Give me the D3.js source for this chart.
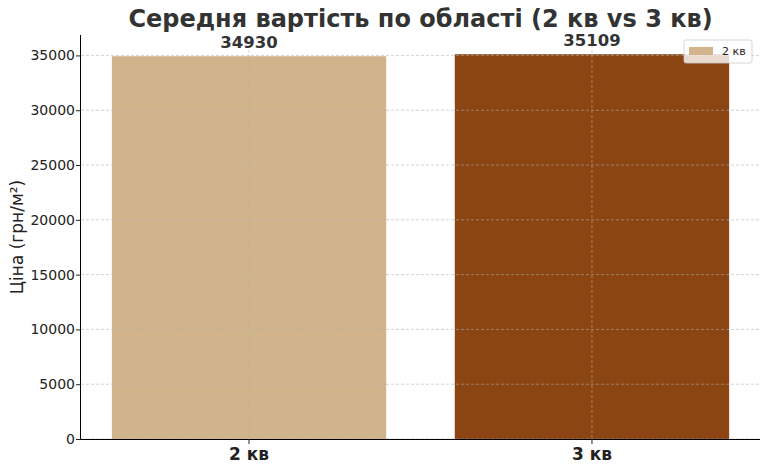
<!DOCTYPE html>
<html>
<head>
<meta charset="utf-8">
<script src="https://cdn.jsdelivr.net/npm/d3@7"></script>
<style>
  body { margin: 0; background: #fff; }
  text { font-family: "DejaVu Sans", sans-serif; }
</style>
</head>
<body>
<script>
// Chart data
var quarters = ["2 кв", "3 кв"];
var prices = [34930, 35109];
var barColors = ["#D2B48C", "#8B4513"];
var yTicks = [0, 5000, 10000, 15000, 20000, 25000, 30000, 35000];

var svgWidth = 768;
var svgHeight = 469;
var margin = { top: 35, right: 8, bottom: 30, left: 81 };
var chartWidth = svgWidth - margin.left - margin.right;
var chartHeight = svgHeight - margin.top - margin.bottom;

var svg = d3.select("body").append("svg")
  .attr("width", svgWidth)
  .attr("height", svgHeight);

var chartGroup = svg.append("g")
  .attr("transform", `translate(${margin.left}, ${margin.top})`);

var xScale = d3.scaleBand()
  .domain(quarters)
  .range([0, chartWidth])
  .paddingInner(0.2)
  .paddingOuter(0.09);

var yScale = d3.scaleLinear()
  .domain([0, d3.max(prices) * 1.05])
  .range([chartHeight, 0]);

// bars
chartGroup.selectAll(".bar")
  .data(prices)
  .enter()
  .append("rect")
  .attr("x", (d, i) => xScale(quarters[i]))
  .attr("y", d => yScale(d))
  .attr("width", xScale.bandwidth())
  .attr("height", d => chartHeight - yScale(d))
  .attr("fill", (d, i) => barColors[i]);

// grid lines on top of bars
chartGroup.selectAll(".hgrid")
  .data(yTicks)
  .enter()
  .append("line")
  .attr("x1", 0).attr("x2", chartWidth)
  .attr("y1", d => yScale(d)).attr("y2", d => yScale(d))
  .attr("stroke", "#b0b0b0")
  .attr("stroke-opacity", 0.7)
  .attr("stroke-width", 0.8)
  .attr("stroke-dasharray", "3,2");

chartGroup.selectAll(".vgrid")
  .data(quarters)
  .enter()
  .append("line")
  .attr("x1", d => xScale(d) + xScale.bandwidth() / 2)
  .attr("x2", d => xScale(d) + xScale.bandwidth() / 2)
  .attr("y1", 0).attr("y2", chartHeight)
  .attr("stroke", "#b0b0b0")
  .attr("stroke-opacity", 0.7)
  .attr("stroke-width", 0.8)
  .attr("stroke-dasharray", "3,2");

// axes
var yAxis = d3.axisLeft(yScale).tickValues(yTicks).tickSize(5).tickPadding(1).tickFormat(d3.format("d"));
var xAxis = d3.axisBottom(xScale).tickSize(5).tickPadding(4);

var yG = chartGroup.append("g").call(yAxis);
yG.attr("font-size", null).attr("font-family", null);
yG.select(".domain").attr("d", `M-0.5,${chartHeight}V0`);
yG.selectAll("text").style("font-size", "14px").attr("fill", "#222");
yG.selectAll("line").attr("stroke", "#222");

var xG = chartGroup.append("g")
  .attr("transform", `translate(0, ${chartHeight})`)
  .call(xAxis);
xG.attr("font-size", null).attr("font-family", null);
xG.select(".domain").attr("d", `M0,0.5H${chartWidth}`);
xG.selectAll("text").style("font-size", "17px").attr("font-weight", "bold").attr("fill", "#222");
xG.selectAll("line").attr("stroke", "#222");

// value labels
chartGroup.selectAll(".val")
  .data(prices)
  .enter()
  .append("text")
  .attr("x", (d, i) => xScale(quarters[i]) + xScale.bandwidth() / 2)
  .attr("y", d => yScale(d) - 8)
  .attr("text-anchor", "middle")
  .style("font-size", "16.5px")
  .attr("font-weight", "bold")
  .attr("fill", "#333")
  .text(d => d);

// title
svg.append("text")
  .attr("x", margin.left + chartWidth / 2)
  .attr("y", 27)
  .attr("text-anchor", "middle")
  .style("font-size", "24px")
  .attr("font-weight", "bold")
  .attr("fill", "#333")
  .text("Середня вартість по області (2 кв vs 3 кв)");

// y label
svg.append("text")
  .attr("transform", `translate(23, ${margin.top + chartHeight / 2}) rotate(-90)`)
  .attr("text-anchor", "middle")
  .style("font-size", "17px")
  .attr("fill", "#222")
  .text("Ціна (грн/м²)");

// legend
var legend = svg.append("g").attr("transform", "translate(684, 40)");
legend.append("rect")
  .attr("width", 68).attr("height", 23).attr("rx", 2)
  .attr("fill", "#fff").attr("fill-opacity", 0.8)
  .attr("stroke", "#ccc").attr("stroke-width", 0.8);
legend.append("rect")
  .attr("x", 5).attr("y", 7).attr("width", 24).attr("height", 8)
  .attr("fill", barColors[0]);
legend.append("text")
  .attr("x", 38).attr("y", 15)
  .style("font-size", "11px")
  .attr("fill", "#222")
  .text(quarters[0]);
</script>
</body>
</html>
